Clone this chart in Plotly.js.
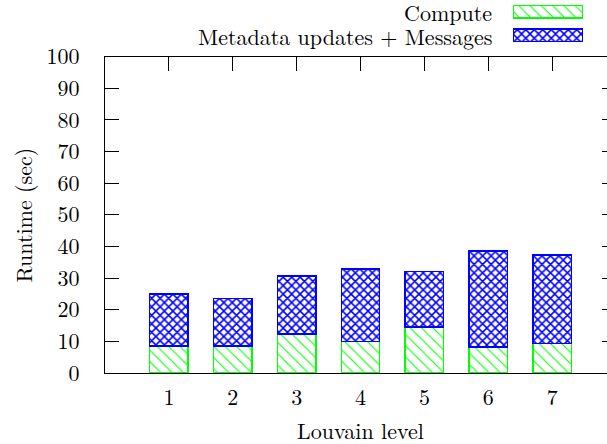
<!DOCTYPE html>
<html>
<head>
<meta charset="utf-8">
<script src="https://cdn.plot.ly/plotly-3.0.1.min.js"></script>
<style>
  html, body { margin: 0; padding: 0; overflow: hidden; background: #fff; }
  #chart { width: 620px; height: 444px; }
</style>
</head>
<body>
<div id="chart"></div>
<script>
// Louvain levels and runtime split (seconds)
const levels = [1, 2, 3, 4, 5, 6, 7];
const computeTime = [8.6, 8.6, 12.3, 10.0, 14.6, 8.2, 9.3];
const messageTime = [16.3, 14.9, 18.3, 22.8, 17.4, 30.3, 28.0];
const seriesNames = ['Compute', 'Metadata updates + Messages'];
const yTicks = [0, 10, 20, 30, 40, 50, 60, 70, 80, 90, 100];

const GREEN = '#00ff00';
const BLUE = '#0000ff';
const FONT = 'Latin Modern Roman';
const FS = 22;

const computeStyle = {
  color: 'white',
  line: { color: GREEN, width: 1.5 },
  pattern: { shape: '\\', fgcolor: GREEN, bgcolor: 'white', size: 8, solidity: 0.13, fillmode: 'replace' }
};
const messageStyle = {
  color: 'white',
  line: { color: BLUE, width: 1.5 },
  pattern: { shape: 'x', fgcolor: BLUE, bgcolor: 'white', size: 6, solidity: 0.45, fillmode: 'replace' }
};

const traces = [
  { type: 'bar', x: levels, y: computeTime, name: seriesNames[0], width: 0.6,
    marker: computeStyle, xaxis: 'x', yaxis: 'y', hoverinfo: 'y' },
  { type: 'bar', x: levels, y: messageTime, name: seriesNames[1], width: 0.6,
    marker: messageStyle, xaxis: 'x', yaxis: 'y', hoverinfo: 'y' },
  // key swatches, one horizontal bar per series in the header strip
  { type: 'bar', orientation: 'h', y: [seriesNames[0]], x: [1], base: 0, width: 0.55,
    marker: computeStyle, xaxis: 'x2', yaxis: 'y2', hoverinfo: 'skip' },
  { type: 'bar', orientation: 'h', y: [seriesNames[1]], x: [1], base: 0, width: 0.55,
    marker: messageStyle, xaxis: 'x2', yaxis: 'y2', hoverinfo: 'skip' }
];

const plotTop = 0.8485;   // main panel height as a share of the drawing area

const layout = {
  width: 620, height: 444,
  margin: { l: 104.5, r: 4, t: 0, b: 71, pad: 0 },
  paper_bgcolor: 'white', plot_bgcolor: 'white',
  showlegend: false,
  barmode: 'stack',
  font: { family: FONT, size: FS, color: '#000' },
  xaxis: {
    domain: [0, 1], range: [0, 8],
    tickvals: levels, ticktext: levels.map(String),
    ticks: 'inside', ticklen: 14, tickwidth: 1, tickcolor: '#000',
    showline: true, linecolor: '#000', linewidth: 1, mirror: 'ticks',
    showgrid: false, zeroline: false, layer: 'below traces',
    ticklabelstandoff: 5,
    tickfont: { family: FONT, size: FS, color: '#000' }
  },
  yaxis: {
    domain: [0, plotTop], range: [0, 100],
    tickvals: yTicks,
    ticks: 'inside', ticklen: 14, tickwidth: 1, tickcolor: '#000',
    showline: true, linecolor: '#000', linewidth: 1, mirror: 'ticks',
    showgrid: false, zeroline: false,
    ticklabelstandoff: 20,
    tickfont: { family: FONT, size: FS, color: '#000' }
  },
  xaxis2: {
    domain: [0.7986, 0.9355], range: [0, 1], anchor: 'y2',
    visible: false, fixedrange: true
  },
  yaxis2: {
    domain: [0.874, 1], range: [1.5, -0.5], anchor: 'x2',
    type: 'category', categoryarray: seriesNames,
    visible: false, fixedrange: true
  },
  annotations: [
    { text: 'Runtime (sec)', textangle: -90, xref: 'paper', yref: 'paper',
      x: -0.161, y: plotTop / 2, xanchor: 'center', yanchor: 'middle', showarrow: false,
      font: { family: FONT, size: FS, color: '#000' } },
    { text: 'Louvain level', xref: 'paper', yref: 'paper',
      x: 0.5, y: -0.152, xanchor: 'center', yanchor: 'middle', showarrow: false,
      font: { family: FONT, size: FS, color: '#000' } }
  ].concat(seriesNames.map(name => ({
    text: name, xref: 'paper', yref: 'y2', x: 0.7595, y: name,
    xanchor: 'right', yanchor: 'middle', showarrow: false, borderpad: 0,
    font: { family: FONT, size: FS, color: '#000' }
  })))
};

Plotly.newPlot('chart', traces, layout, { displayModeBar: false, staticPlot: true });
</script>
</body>
</html>
